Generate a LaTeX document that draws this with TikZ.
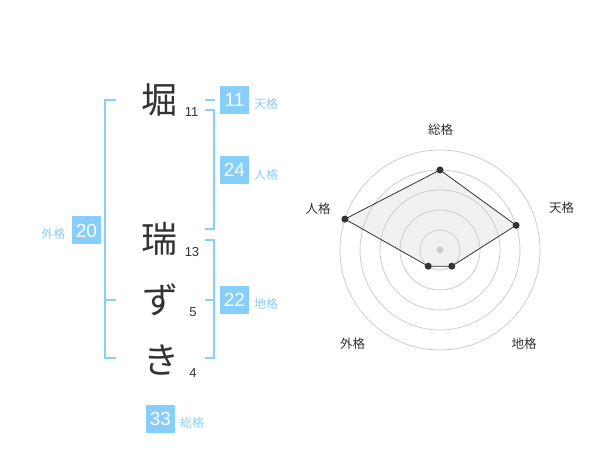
\documentclass[tikz,border=0pt]{standalone}
\usepackage{fontspec}
\setmainfont{Liberation Sans}
\newfontfamily\jp{Noto Sans CJK JP}
\definecolor{sky}{RGB}{135,206,250}
\definecolor{ink}{RGB}{51,51,51}
\definecolor{ring}{RGB}{204,204,204}
\tikzset{
  bigch/.style={inner sep=0pt, text=ink, font=\jp\fontsize{36}{36}\selectfont},
  strokes/.style={inner sep=0pt, text=ink, font=\fontsize{13}{13}\selectfont},
  numbox/.style={fill=sky, text=white, minimum width=29pt, minimum height=28pt, inner sep=0pt, font=\fontsize{19}{19}\selectfont},
  kaku/.style={inner sep=0pt, text=sky, font=\jp\fontsize{12}{12}\selectfont},
  bracket/.style={draw=sky, line width=2pt},
  axislbl/.style={inner sep=0pt, text=ink, font=\jp\fontsize{12.5}{12.5}\selectfont},
  ringline/.style={draw=ring, line width=0.8pt},
  dot/.style={circle, fill=ink, inner sep=0pt, minimum size=7pt},
}
\begin{document}
\begin{tikzpicture}[x=1pt,y=-1pt]
\useasboundingbox (0,0) rectangle (600,470);
% characters
\node[bigch] (c1) at (159,100) {堀};
\node[strokes] (s1) at (191.5,112.5) {11};
\node[bigch] (c2) at (159,239) {瑞};
\node[strokes] (s2) at (192,252.5) {13};
\node[bigch] (c3) at (160,300) {ず};
\node[strokes] (s3) at (193,312) {5};
\node[bigch] (c4) at (161,360) {き};
\node[strokes] (s4) at (193,373) {4};
% brackets
\coordinate (lt) at (116,100); \coordinate (lb) at (116,358);
\draw[bracket] (lt) -- (105,100) -- (105,358) -- (lb);
\draw[bracket] (105,300) -- (116,300);
\draw[bracket] (205,100) -- (215,100);
\draw[bracket] (205,110.5) -- (214,110.5) -- (214,229.5) -- (205,229.5);
\draw[bracket] (205,240) -- (214,240) -- (214,358) -- (205,358);
\draw[bracket] (205,300) -- (214,300);
% boxes
\node[numbox] (ten) at (234.5,100) {11};
\node[kaku, anchor=west] (tenl) at (254,104) {天格};
\node[numbox] (jin) at (234.5,170) {24};
\node[kaku, anchor=west] (jinl) at (254,174.5) {人格};
\node[numbox] (gai) at (86.5,230.5) {20};
\node[kaku, anchor=east] (gail) at (65.5,234) {外格};
\node[numbox] (chi) at (234.5,300) {22};
\node[kaku, anchor=west] (chil) at (254,304) {地格};
\node[numbox] (sou) at (160.5,419) {33};
\node[kaku, anchor=west] (soul) at (180,422.5) {総格};
% radar
\coordinate (rc) at (440,250);
\fill[ring!40, opacity=0.7] (440,170) -- (516.1,225.3) -- (451.8,266.2) -- (428.2,266.2) -- (344.9,219.1) -- cycle;
\foreach \r in {20,40,60,80,100} \draw[ringline] (rc) circle[radius=\r];
\fill[ring] (rc) circle[radius=3.5];
\node[dot] (p1) at (440,170) {};
\node[dot] (p2) at (516.1,225.3) {};
\node[dot] (p3) at (451.8,266.2) {};
\node[dot] (p4) at (428.2,266.2) {};
\node[dot] (p5) at (344.9,219.1) {};
\draw[ink, line width=0.8pt] (p1.center) -- (p2.center) -- (p3.center) -- (p4.center) -- (p5.center) -- cycle;
\node[axislbl] (a1) at (440.5,130) {総格};
\node[axislbl] (a2) at (561.5,208) {天格};
\node[axislbl] (a3) at (318,208.5) {人格};
\node[axislbl] (a4) at (352.5,343.5) {外格};
\node[axislbl] (a5) at (524,343.5) {地格};
\end{tikzpicture}
\end{document}
